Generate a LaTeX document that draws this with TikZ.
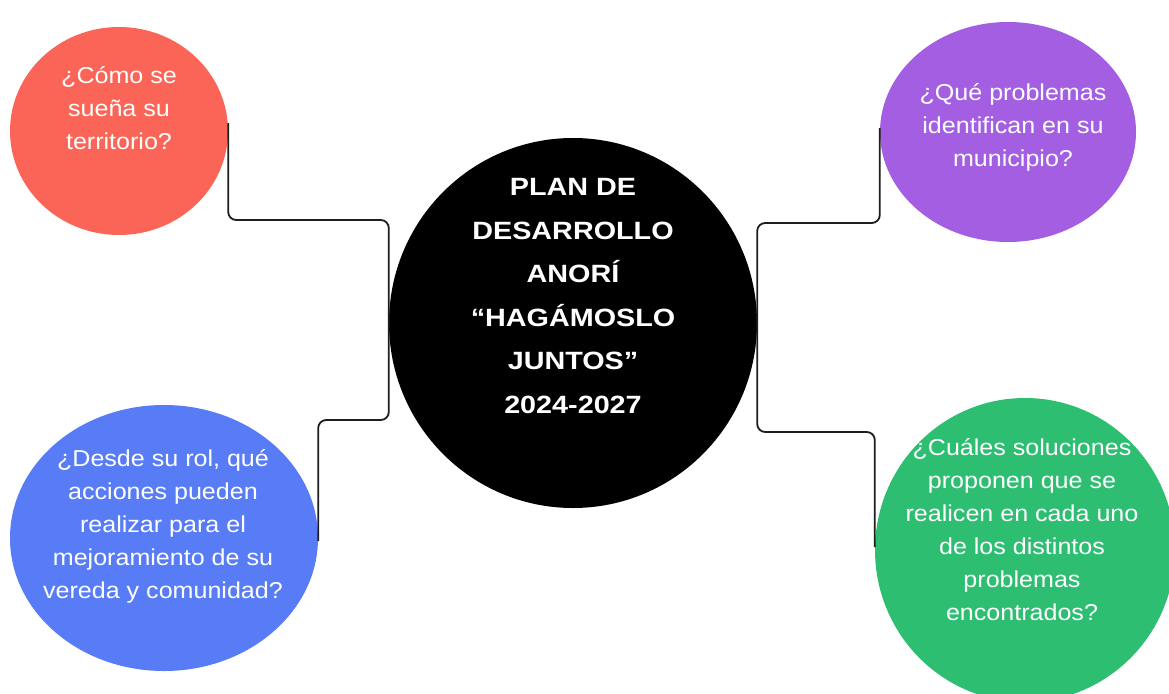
\documentclass[tikz,border=0pt]{standalone}
\usepackage{fontspec}
\setmainfont{Liberation Sans}
\newfontfamily\qfont{Liberation Sans}[FakeStretch=1.09]
\newfontfamily\tfont{Liberation Sans}[FakeStretch=1.15]
\usetikzlibrary{shapes.geometric}
\definecolor{cRed}{RGB}{250,101,87}
\definecolor{cPurple}{RGB}{163,94,226}
\definecolor{cBlue}{RGB}{88,124,246}
\definecolor{cGreen}{RGB}{46,190,114}
\definecolor{cLine}{RGB}{30,30,30}
\tikzset{
  blob/.style={ellipse, draw=none, inner sep=0pt},
  qtext/.style={text=white, align=center, inner sep=0pt, font=\qfont\fontsize{23}{33}\selectfont},
  ttext/.style={text=white, align=center, inner sep=0pt, font=\tfont\bfseries\fontsize{25}{43.6}\selectfont},
  conn/.style={draw=cLine, line width=1.8pt, rounded corners=8pt}
}
\begin{document}
\begin{tikzpicture}[x=1pt, y=-1pt]
\useasboundingbox[fill=white] (0,0) rectangle (1169,693);
% circles
\node[blob, fill=cRed, minimum width=218pt, minimum height=208pt] (red) at (119,131) {};
\node[blob, fill=cPurple, minimum width=256pt, minimum height=220pt] (purple) at (1008,132) {};
\node[blob, fill=cBlue, minimum width=308pt, minimum height=266pt] (blue) at (164,538) {};
\node[blob, fill=cGreen, minimum width=300pt, minimum height=304pt] (green) at (1025,550) {};
\node[blob, fill=black, minimum width=368pt, minimum height=370pt] (hub) at (573,323) {};
% connectors
\draw[conn] ([yshift=8pt]red.east) |- (hub.west |- 0,220) -- (hub.west |- 0,420) -| ([yshift=-3pt]blue.east);
\draw[conn] ([yshift=4pt]purple.west) |- (hub.east |- 0,223) -- (hub.east |- 0,432) -| ([yshift=3pt]green.west);
% texts
\node[ttext] (hubtxt) at (573,296) {PLAN DE\\DESARROLLO\\ANORÍ\\“HAGÁMOSLO\\JUNTOS”\\2024-2027};
\node[qtext] (redtxt) at (119,108) {¿Cómo se\\sueña su\\territorio?};
\node[qtext] (purpletxt) at (1013,127) {¿Qué problemas\\identifican en su\\municipio?};
\node[qtext] (bluetxt) at (163,526) {¿Desde su rol, qué\\acciones pueden\\realizar para el\\mejoramiento de su\\vereda y comunidad?};
\node[qtext] (greentxt) at (1022,530) {¿Cuáles soluciones\\proponen que se\\realicen en cada uno\\de los distintos\\problemas\\encontrados?};
\end{tikzpicture}
\end{document}
